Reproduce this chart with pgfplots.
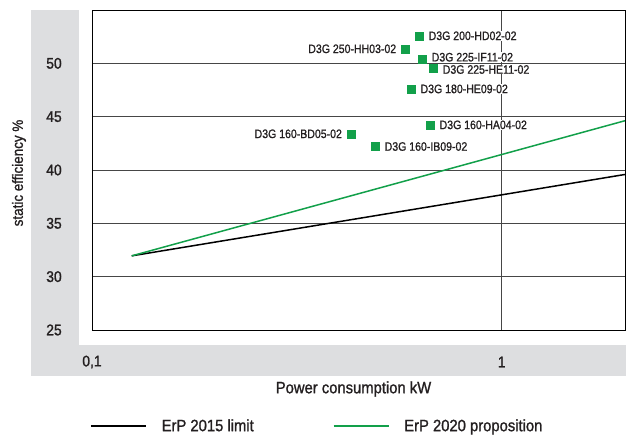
\documentclass[border=0pt]{standalone}
\usepackage{pgfplots}
\pgfplotsset{compat=1.18}
\usepackage{fontspec}
\setmainfont{Liberation Sans}[FakeStretch=0.9, FakeBold=1.2]
\newfontfamily\narrow{Liberation Sans}[FakeStretch=0.86, FakeBold=1.0]
\definecolor{ebmgreen}{RGB}{18,160,74}
\definecolor{band}{RGB}{221,222,224}
\definecolor{gridc}{RGB}{70,70,70}
\definecolor{txt}{RGB}{35,31,32}

\pgfplotstableread{
x y dy label
0.630 52.58 0 {D3G 200-HD02-02}
0.641 50.34 2.5 {D3G 225-IF11-02}
0.682 49.56 -1.5 {D3G 225-HE11-02}
0.602 47.60 0 {D3G 180-HE09-02}
0.670 44.23 0 {D3G 160-HA04-02}
0.492 42.20 0 {D3G 160-IB09-02}
}\rightpts
\pgfplotstableread{
x y dy label
0.582 51.36 0 {D3G 250-HH03-02}
0.429 43.39 0 {D3G 160-BD05-02}
}\leftpts

\begin{document}
\begin{tikzpicture}[x=1bp,y=1bp]
\fill[band] (31,60) rectangle (79,426);
\fill[band] (79,60) rectangle (626,91);
\begin{axis}[
  at={(92bp,106bp)}, anchor=south west,
  scale only axis, width=533bp, height=320bp,
  xmode=log, xmin=0.1, xmax=2, ymin=25, ymax=55,
  xtick={0.1,1},
  xticklabels={{0,1},1},
  ytick={25,30,35,40,45,50},
  /pgf/number format/assume math mode=true,
  major tick length=0pt, minor tick num=0,
  xminorticks=false,
  grid=major,
  major grid style={gridc, line width=0.8bp},
  axis line style={black, line width=0.9bp},
  tick label style={font=\fontsize{15.5}{15.5}\selectfont, text=txt},
  yticklabel style={anchor=center, xshift=-38bp},
  xticklabel style={anchor=center, yshift=-32bp},
  clip=false,
  legend columns=2,
  legend style={at={(0,-0.3)}, xshift=-5bp, anchor=west, draw=none, fill=none,
    font=\fontsize{16.5}{16.5}\selectfont, text=txt,
    /tikz/every even column/.append style={column sep=77bp}},
  legend image code/.code={\draw[#1] (0bp,0bp) -- (55bp,0bp);},
]
\addplot[black, line width=1.5bp] coordinates {(0.125,31.95) (1,37.67) (2,39.58)};
\addlegendentry{\hspace{13bp}ErP 2015 limit}
\addplot[ebmgreen, line width=1.5bp] coordinates {(0.125,31.95) (1,41.45) (2,44.62)};
\addlegendentry{\hspace{13bp}ErP 2020 proposition}

\addplot[forget plot, only marks, mark=square*, mark size=4bp, ebmgreen,
  visualization depends on={\thisrow{dy}\as\dy},
  nodes near coords, point meta=explicit symbolic,
  nodes near coords style={anchor=west, xshift=8.5bp, yshift=\dy bp, fill=white, inner sep=0.5bp, text=txt, font=\narrow\fontsize{12.3}{12.3}\selectfont}]
  table[x=x, y=y, meta=label] {\rightpts};
\addplot[forget plot, only marks, mark=square*, mark size=4bp, ebmgreen,
  visualization depends on={\thisrow{dy}\as\dy},
  nodes near coords, point meta=explicit symbolic,
  nodes near coords style={anchor=east, xshift=-8.5bp, yshift=\dy bp, fill=white, inner sep=0.5bp, text=txt, font=\narrow\fontsize{12.3}{12.3}\selectfont}]
  table[x=x, y=y, meta=label] {\leftpts};
\addplot[forget plot, only marks, mark=square*, mark size=4bp, ebmgreen] table[x=x, y=y] {\rightpts};
\addplot[forget plot, only marks, mark=square*, mark size=4bp, ebmgreen] table[x=x, y=y] {\leftpts};
\end{axis}
\node[font=\fontsize{16.5}{16.5}\selectfont, text=txt] at (353.5,47) {Power consumption kW};
\node[rotate=90, font=\fontsize{15}{15}\selectfont, text=txt] at (19,263) {static efficiency \%};
\pgfresetboundingbox
\path[use as bounding box] (0,0) rectangle (626,436);
\end{tikzpicture}
\end{document}
